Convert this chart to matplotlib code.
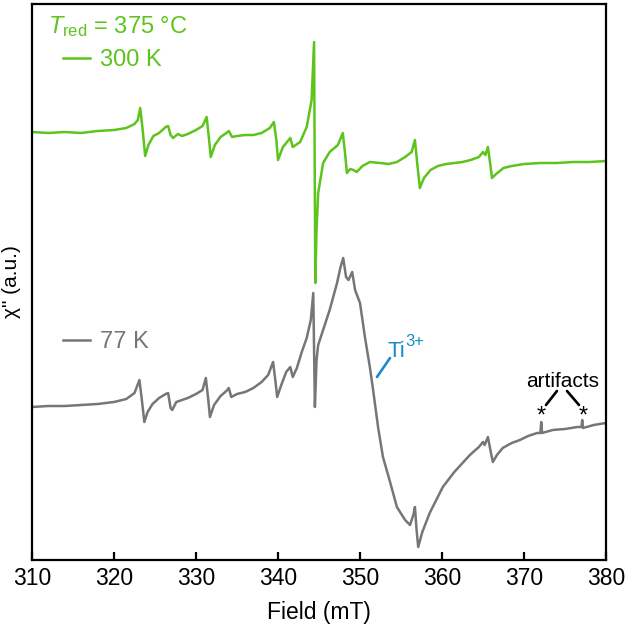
import numpy as np
import matplotlib
matplotlib.use('Agg')
import matplotlib.pyplot as plt

plt.rcParams['font.family'] = ['Liberation Sans', 'DejaVu Sans']
plt.rcParams['mathtext.fontset'] = 'custom'
plt.rcParams['mathtext.rm'] = 'Liberation Sans'
plt.rcParams['mathtext.it'] = 'Liberation Sans:italic'

GREEN = '#5cc41c'
GRAY = '#767676'
BLUE = '#1b8bcb'

# spectrum at 300 K (field in mT, chi'' in a.u.)
field_300 = [310.0, 312.0, 314.0, 316.0, 318.0, 320.0, 321.5, 322.5, 322.9, 323.2,
             323.5, 323.8, 324.2, 324.8, 325.5, 326.3, 326.6, 326.9, 327.2, 327.8,
             328.3, 329.0, 330.0, 330.8, 331.3, 331.6, 331.8, 332.3, 333.0, 333.7,
             334.0, 334.4, 335.0, 336.0, 337.0, 338.0, 339.0, 339.5, 339.8, 340.0,
             340.6, 341.5, 341.8, 342.7, 343.5, 344.1, 344.4, 344.55, 344.7, 344.9,
             345.5, 346.3, 347.3, 347.9, 348.2, 348.4, 348.8, 349.2, 349.6, 350.3,
             351.2, 352.5, 353.5, 354.5, 355.5, 356.3, 356.7, 357.0, 357.3, 357.8,
             358.6, 359.5, 360.5, 361.5, 362.5, 363.5, 364.5, 365.0, 365.3, 365.6,
             365.9, 366.1, 366.6, 367.5, 368.5, 370.0, 372.0, 374.0, 376.0, 378.0,
             380.0]
chi_300 = [428, 427, 428, 427, 429, 430, 432, 436, 440, 452,
           430, 404, 415, 424, 427, 433, 434, 425, 422, 426,
           424, 426, 430, 434, 443, 420, 403, 415, 423, 427,
           429, 423, 424, 425, 425, 427, 432, 438, 420, 400,
           413, 422, 413, 418, 433, 460, 518, 277, 330, 367,
           397, 408, 415, 427, 405, 387, 391, 390, 388, 394,
           398, 397, 396, 398, 403, 408, 420, 395, 372, 382,
           390, 394, 396, 397, 398, 400, 403, 408, 405, 413,
           395, 382, 386, 392, 394, 396, 397, 397, 398, 398,
           399]

# spectrum at 77 K
field_77 = [310.0, 312.0, 314.0, 316.0, 318.0, 320.0, 321.5, 322.5, 323.1, 323.4,
            323.7, 324.1, 324.7, 325.5, 326.3, 326.6, 326.9, 327.1, 327.6, 328.3,
            329.0, 330.0, 330.8, 331.2, 331.5, 331.7, 332.2, 333.0, 333.7, 334.0,
            334.3, 335.0, 336.0, 337.0, 338.0, 338.8, 339.4, 339.7, 339.9, 340.4,
            341.0, 341.5, 341.8, 342.3, 342.9, 343.5, 344.0, 344.3, 344.4, 344.5,
            344.7, 344.9, 345.5, 346.3, 347.2, 347.6, 347.95, 348.3, 348.6, 349.05,
            349.4, 350.0, 350.6, 351.2, 351.6, 352.2, 352.8, 353.7, 354.5, 355.5,
            356.1, 356.5, 356.7, 356.9, 357.1, 357.6, 358.5, 360.1, 361.5, 363.4,
            364.5, 365.0, 365.2, 365.6, 365.9, 366.2, 366.7, 367.4, 368.5, 369.5,
            370.5, 371.6, 372.0, 372.1, 372.2, 373.5, 375.0, 376.5, 377.0, 377.1,
            377.2, 378.5, 380.0]
chi_77 = [153, 154, 154, 155, 156, 158, 161, 167, 180, 160,
          138, 148, 156, 162, 166, 167, 152, 150, 158, 160,
          162, 166, 170, 182, 160, 143, 155, 164, 169, 172,
          163, 166, 168, 172, 178, 185, 198, 178, 163, 175,
          188, 193, 183, 192, 208, 222, 240, 267, 210, 153,
          200, 215, 230, 250, 277, 292, 302, 283, 280, 288,
          270, 257, 223, 193, 170, 133, 103, 77, 53, 40,
          35, 45, 53, 30, 13, 28, 47, 73, 88, 105,
          113, 118, 115, 123, 110, 98, 105, 112, 117, 120,
          124, 127, 127, 138, 127, 130, 131, 133, 133, 140,
          132, 135, 137]

xticks = [310, 320, 330, 340, 350, 360, 370, 380]

fig = plt.figure(figsize=(6.3, 6.26), dpi=100)
ax = fig.add_axes([32 / 630, 66 / 626, 574 / 630, 556 / 626])

l300, = ax.plot(field_300, chi_300, color=GREEN, lw=1.8, solid_joinstyle='round')
l77, = ax.plot(field_77, chi_77, color=GRAY, lw=1.8, solid_joinstyle='round')

ax.set_xlim(310, 380)
ax.set_ylim(0, 556)
ax.set_xticks(xticks)
ax.set_yticks([])
ax.tick_params(axis='x', direction='in', length=6, width=1.6, labelsize=16.5, pad=5)
for s in ax.spines.values():
    s.set_linewidth(1.6)
ax.set_xlabel('Field (mT)', fontsize=16.5, labelpad=8)
ax.set_ylabel('χ" (a.u.)', fontsize=15, labelpad=8)

# labels
ax.text(0.028, 0.9586, r'$T_{\mathrm{red}}$ = 375 °C', transform=ax.transAxes,
        color=GREEN, fontsize=17, ha='left', va='center')
leg_kw = dict(loc='center left', frameon=False, fontsize=17, handlelength=1.15,
              handletextpad=0.42, borderpad=0, borderaxespad=0)
leg1 = ax.legend([l300], ['300 K'], bbox_to_anchor=(0.054, 0.899),
                 labelcolor=GREEN, **leg_kw)
ax.add_artist(leg1)
ax.legend([l77], ['77 K'], bbox_to_anchor=(0.054, 0.392), labelcolor=GRAY, **leg_kw)

ax.text(353.3, 203, 'Ti', color=BLUE, fontsize=16, ha='left', va='baseline')
ax.text(355.5, 214, '3+', color=BLUE, fontsize=12, ha='left', va='baseline')
ax.annotate('', xy=(352.07, 183), xytext=(353.66, 202),
            arrowprops=dict(arrowstyle='-', color=BLUE, lw=1.9, shrinkA=0, shrinkB=0))

ax.text(374.76, 173, 'artifacts', fontsize=15, ha='center', va='baseline')
for x0, x1 in [(374.02, 372.68), (375.24, 376.71)]:
    ax.annotate('', xy=(x1, 155), xytext=(x0, 169),
                arrowprops=dict(arrowstyle='-', color='black', lw=1.9, shrinkA=0, shrinkB=0))
for xa in [372.07, 377.2]:
    ax.text(xa, 137, '*', fontsize=17, ha='center', va='baseline')

fig.savefig('out.png', dpi=100)
